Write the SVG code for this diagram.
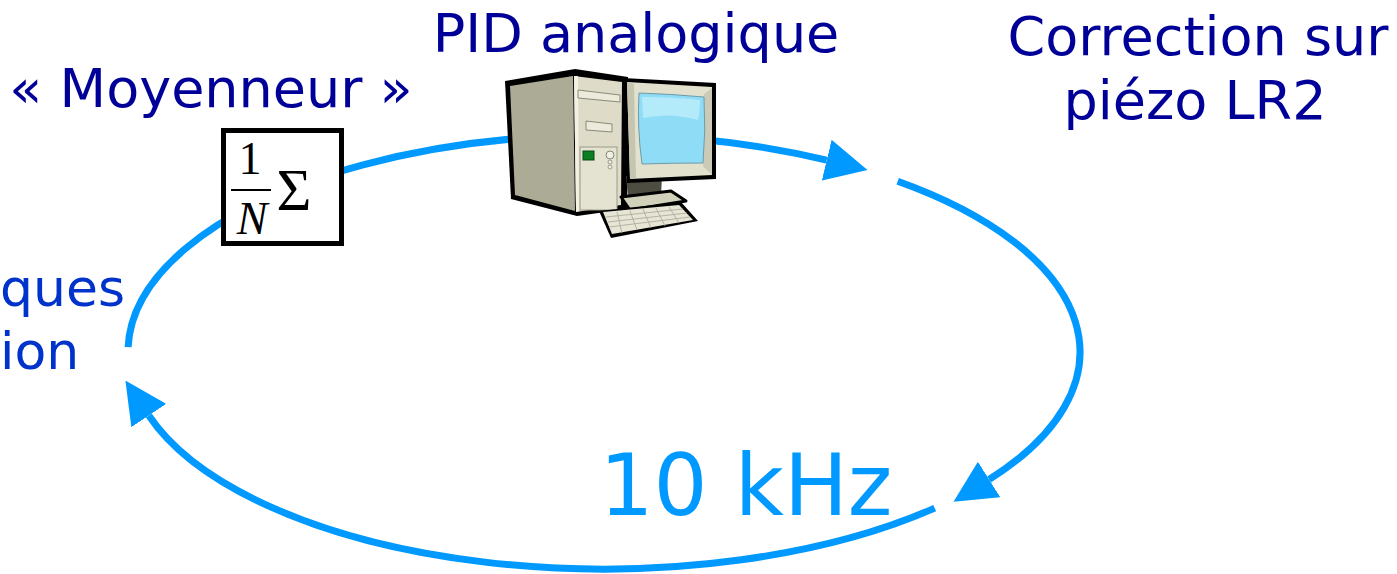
<svg xmlns="http://www.w3.org/2000/svg" width="1397" height="574" viewBox="0 0 1397 574">
  <style>
    .label { font-family: "DejaVu Sans", Verdana, sans-serif; font-size: 54px; fill: #000099; }
    .side { font-family: "DejaVu Sans", Verdana, sans-serif; font-size: 52px; fill: #0033cc; }
    .rate { font-family: "DejaVu Sans", Verdana, sans-serif; font-size: 85px; fill: #0099ff; }
    .loop { fill: none; stroke: #0099ff; stroke-width: 7; stroke-linecap: butt; }
    .math { font-family: "Liberation Serif", "Times New Roman", serif; fill: #000; }
    .edge { stroke: #000; stroke-width: 3; stroke-linejoin: round; }
  </style>
  <defs>
    <marker id="arrow" viewBox="0 0 42 42" refX="0" refY="21" markerWidth="42" markerHeight="42" markerUnits="userSpaceOnUse" orient="auto">
      <path d="M0,0 L42,21 L0,42 z" fill="#0099ff"/>
    </marker>
  </defs>

  <rect width="1397" height="574" fill="#ffffff"/>

  <!-- loop connectors (ellipse arcs, centre 604,352) -->
  <g id="connectors">
    <path class="loop" d="M128.1,347.1 A476,217 0 0 1 826.7,160.2" marker-end="url(#arrow)"/>
    <path class="loop" d="M897.7,181.2 A476,217 0 0 1 989.1,479.5" marker-end="url(#arrow)"/>
    <path class="loop" d="M934.7,508.1 A476,217 0 0 1 148.8,415.5" marker-end="url(#arrow)"/>
  </g>

  <!-- labels -->
  <g id="labels">
    <text class="label" x="211" y="107" text-anchor="middle">« Moyenneur »</text>
    <text class="label" x="636" y="52" text-anchor="middle">PID analogique</text>
    <text class="label" x="1198" y="55" text-anchor="middle">Correction sur</text>
    <text class="label" x="1195" y="119" text-anchor="middle">piézo LR2</text>
    <text class="side" x="0" y="306">ques</text>
    <text class="side" x="0" y="369">ion</text>
    <text class="rate" x="746" y="515" text-anchor="middle">10 kHz</text>
  </g>

  <!-- averaging block -->
  <g id="moyenneur">
    <rect x="223.5" y="130.5" width="118" height="113" fill="#ffffff" stroke="#000" stroke-width="5"/>
    <text class="math" x="250" y="174" font-size="46" text-anchor="middle">1</text>
    <line x1="231" y1="190" x2="271" y2="190" stroke="#000" stroke-width="2"/>
    <text class="math" x="252" y="234" font-size="46" font-style="italic" text-anchor="middle">N</text>
    <text class="math" x="294" y="210" font-size="60" text-anchor="middle">Σ</text>
  </g>

  <!-- PC: tower, monitor, keyboard -->
  <g id="pid">
    <!-- tower -->
    <polygon points="505,81 575,69 628,77 627,209 577,216 511,199" fill="#000"/>
    <polygon points="510,86 573,76 575,211 515,195" fill="#abab96"/>
    <polygon points="574,76 622,82 621,205 576,212" fill="#dedcc9"/>
    <polygon points="574,76 578,76 579,211 576,212" fill="#f2f1e4"/>
    <polygon points="578,90 620,95 620,102 578,98" fill="#ebeadb" stroke="#8a8a78" stroke-width="1"/>
    <polygon points="586,121 612,124 612,132 586,130" fill="#ebeadb" stroke="#8a8a78" stroke-width="1"/>
    <rect x="580" y="147" width="37" height="63" fill="#e4e3d1" stroke="#9a9a88" stroke-width="1"/>
    <rect x="583" y="151" width="11" height="9" fill="#0b7d23" stroke="#064d14" stroke-width="1"/>
    <circle cx="610" cy="155" r="4" fill="#f0efe4" stroke="#888878" stroke-width="1"/>
    <circle cx="610" cy="162" r="2" fill="#f0efe4" stroke="#888878" stroke-width="0.8"/>
    <circle cx="610" cy="167" r="2" fill="#f0efe4" stroke="#888878" stroke-width="0.8"/>
    <!-- monitor stand -->
    <polygon points="626,176 662,176 661,196 628,198" fill="#4d4d42"/>
    <polygon points="621,197 671,191 686,201 630,210" fill="#d2d1bc" class="edge"/>
    <!-- monitor -->
    <polygon points="623,78 716,83 716,179 627,183" fill="#000"/>
    <polygon points="627,82 712,87 712,175 630,179" fill="#e2e1ce"/>
    <polygon points="627,82 634,84 636,178 630,179" fill="#c6c5b0"/>
    <polygon points="704,94 712,88 712,175 703,166" fill="#cbcab6"/>
    <path d="M639,93 Q671,94 704,97 Q706,130 703,163 Q672,163 642,164 Q637,128 639,93 z" fill="#8fdcf6" stroke="#6f9aa8" stroke-width="1"/>
    <path d="M642,97 Q672,97 700,100 Q700,112 698,120 Q670,112 643,118 z" fill="#b3ebfb"/>
    <!-- keyboard -->
    <polygon points="599,211 681,202 698,221 611,238" fill="#000"/>
    <polygon points="603,212 679,205 693,220 612,234" fill="#e6e5d6"/>
    <g stroke="#a8a796" stroke-width="0.8">
      <line x1="606" y1="217" x2="683" y2="209"/>
      <line x1="608" y1="222" x2="687" y2="213"/>
      <line x1="609" y1="227" x2="690" y2="217"/>
      <line x1="617" y1="212" x2="622" y2="233"/>
      <line x1="630" y1="211" x2="637" y2="230"/>
      <line x1="643" y1="209" x2="651" y2="228"/>
      <line x1="656" y1="208" x2="665" y2="226"/>
      <line x1="669" y1="207" x2="679" y2="223"/>
    </g>
  </g>
</svg>
